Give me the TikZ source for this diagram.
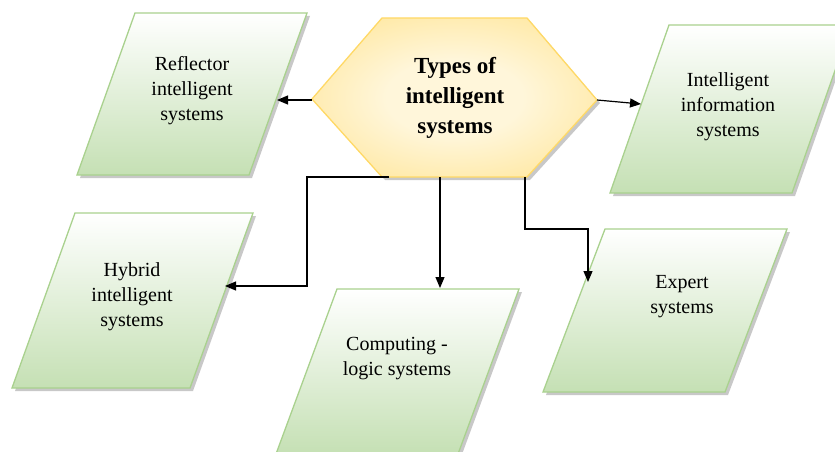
\documentclass[tikz,border=0pt]{standalone}
\usepackage{fontspec}
\setmainfont{Liberation Serif}
\usetikzlibrary{arrows.meta}
\definecolor{paragreen}{RGB}{197,224,180}
\definecolor{paraborder}{RGB}{169,209,142}
\definecolor{hexdark}{RGB}{255,217,102}
\definecolor{hexlight}{RGB}{255,246,218}
\definecolor{shadowgray}{RGB}{200,200,200}
\pgfdeclareradialshading{hexshade}{\pgfpoint{0bp}{0bp}}{%
  color(0bp)=(hexlight); color(12bp)=(hexlight); color(50bp)=(hexdark); color(100bp)=(hexdark)}
\tikzset{
  shadowfill/.style={fill=shadowgray, draw=none},
  parabox/.style={draw=paraborder, line width=1.3pt, top color=white, bottom color=paragreen},
  hexbox/.style={draw=hexdark, line width=1.3pt, shading=hexshade},
  paratext/.style={align=center, font=\fontsize{20}{25}\selectfont, text=black, inner sep=0pt},
  hextext/.style={align=center, font=\fontsize{23}{30}\selectfont\bfseries, text=black, inner sep=0pt},
  conn/.style={line width=1.2pt, -{Triangle[length=11pt,width=9pt]}},
}
\newcommand\paragram[5]{% #1 TL x, #2 top y, #3 top width, #4 height, #5 slant
  \fill[shadowfill] (#1+3,#2+3) -- ++(#3,0) -- ++(-#5,#4) -- ++(-#3,0) -- cycle;
  \shadedraw[parabox] (#1,#2) -- ++(#3,0) -- ++(-#5,#4) -- ++(-#3,0) -- cycle;
}
\begin{document}
\begin{tikzpicture}[x=1pt,y=-1pt]
\useasboundingbox (0,0) rectangle (835,452);
\clip (0,0) rectangle (835,452);

% parallelograms
\paragram{135}{13}{172}{162}{58}
\paragram{669}{25}{182}{168}{59}
\paragram{75}{213}{178}{175}{63}
\paragram{337}{289}{182}{165}{61}
\paragram{605}{229}{182}{163}{62}

% hexagon
\fill[shadowfill] (385,21) -- (530,21) -- (600,103) -- (530,180) -- (385,180) -- (315,102) -- cycle;
\shadedraw[hexbox] (382,18) -- (527,18) -- (597,100) -- (527,177) -- (382,177) -- (312,99) -- cycle;

% texts
\node[hextext] (hex) at (455,98) {Types of\\intelligent\\systems};
\node[paratext] (refl) at (192,91) {Reflector\\intelligent\\systems};
\node[paratext] (info) at (728,107) {Intelligent\\information\\systems};
\node[paratext] (hyb) at (132,297) {Hybrid\\intelligent\\systems};
\node[paratext] (comp) at (397,359) {Computing -\\logic systems};
\node[paratext] (exp) at (682,297) {Expert\\systems};

% connector end points
\coordinate (hexL) at (312,100);
\coordinate (hexR) at (597,100);
\coordinate (hexB1) at (389,177);
\coordinate (hexB2) at (440,177);
\coordinate (hexB3) at (525,177);
\coordinate (reflIn) at (277,100);
\coordinate (infoIn) at (641,104);
\coordinate (hybIn) at (225,286);
\coordinate (compIn) at (440,288);
\coordinate (expIn) at (588,282);

\draw[conn] (hexL) -- (reflIn);
\draw[conn] (hexR) -- (infoIn);
\draw[conn] (hexB1) -- (307,177) -- (307,286) -- (hybIn);
\draw[conn] (hexB2) -- (compIn);
\draw[conn] (hexB3) -- (525,229) -- (588,229) -- (expIn);
\end{tikzpicture}
\end{document}
